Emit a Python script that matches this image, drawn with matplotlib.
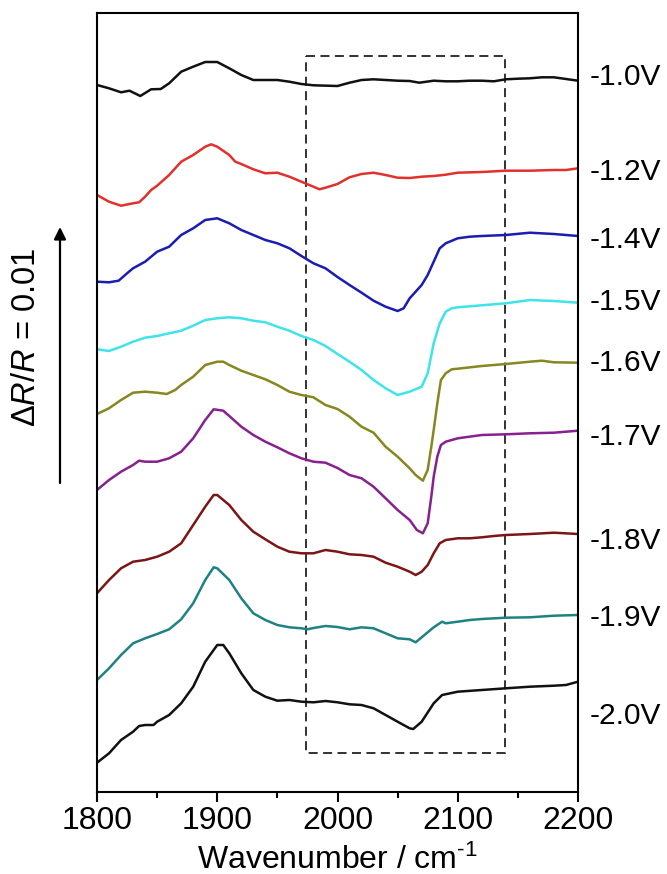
import matplotlib
matplotlib.use("Agg")
import matplotlib.pyplot as plt
from matplotlib.patches import Rectangle

plt.rcParams['font.family'] = ['Liberation Sans', 'DejaVu Sans']
plt.rcParams['mathtext.fontset'] = 'custom'
plt.rcParams['mathtext.rm'] = 'Liberation Sans'
plt.rcParams['mathtext.it'] = 'Liberation Sans:italic'

# ---- data (offset traces; vertical axis in stacked display units, increasing downward) ----
labels = ['-1.0V', '-1.2V', '-1.4V', '-1.5V', '-1.6V', '-1.7V', '-1.8V', '-1.9V', '-2.0V']
colors = ['#111111', '#e2312c', '#1c1cb0', '#3fe3ea', '#878720', '#86218f', '#7c1616', '#1f8282', '#111111']

x1 = [1800,1810,1820,1827,1836,1845,1853,1860,1870,1880,1890,1900,1910,1920,1930,1940,1950,1960,1970,1980,2000,2010,2020,2030,2040,2050,2060,2068,2080,2090,2100,2110,2120,2130,2140,2150,2160,2170,2180,2190,2200]
y1 = [85,88.3,92.3,90.7,96,89.3,89,83.3,71.7,66.7,62,62,68.3,75,80,80,80,81.7,84,85.3,86,82.7,80,79.3,80,80.7,81,82.7,80.7,81.3,81.3,80.7,80.7,81.3,79.3,78.7,78.3,77.3,77.3,79,80.7]

x2 = [1800,1810,1820,1830,1835,1840,1845,1850,1860,1870,1880,1890,1895,1900,1910,1915,1920,1930,1940,1950,1960,1970,1980,1985,1990,2000,2010,2020,2030,2040,2050,2060,2070,2080,2090,2100,2120,2140,2160,2180,2190,2200]
y2 = [195,201.7,205.7,203.3,202.3,196.7,190,185.7,175,161.7,155,146.7,144.3,146.7,155,161.7,164,169.3,173.3,172.7,176.7,181.7,186.7,189.3,187.7,184,177.3,174,172.7,175,177.7,178,176.7,176,174.7,172.7,172,170.7,170.7,170,170,168.3]

x3 = [1800,1810,1818,1825,1830,1840,1850,1860,1870,1880,1890,1900,1910,1920,1930,1940,1950,1960,1970,1980,1990,2000,2010,2020,2030,2040,2050,2055,2060,2070,2075,2080,2085,2090,2100,2110,2120,2140,2160,2180,2200]
y3 = [281.7,282.3,280.7,273.3,268.3,261.7,251.7,246.7,235,228.3,220,218.3,223.3,230,235,240,243.3,248.3,256,263.3,268.3,277,285,292.7,300.7,306.7,311,308.3,298.3,285,275,261.7,248.3,243.3,238.3,236.7,236,235,232.7,234,236]

x4 = [1800,1810,1820,1830,1840,1850,1860,1870,1880,1890,1900,1910,1920,1930,1940,1950,1960,1970,1980,1990,2000,2010,2020,2030,2040,2050,2060,2070,2075,2080,2085,2090,2095,2100,2120,2140,2160,2180,2200]
y4 = [349.3,351,346.7,341.7,337.7,336,333.3,330.7,325.7,320,318.3,317.3,318.3,320.7,322.3,326.7,330.7,336,340,346,354,361.7,370,380,388.3,395,391.7,386.7,373.3,343.3,323.3,311.7,308.3,307.3,305.3,303.3,300,301,302.7]

x5 = [1800,1810,1820,1830,1840,1850,1858,1865,1870,1880,1890,1900,1905,1910,1920,1930,1940,1950,1960,1970,1980,1990,2000,2010,2020,2030,2040,2050,2060,2065,2071,2075,2078,2080,2083,2086,2090,2095,2100,2120,2140,2160,2170,2180,2200]
y5 = [414,408.3,400,392.7,391.7,392.7,394,390,385,376.7,365,361.7,361.7,365,370.7,375,379.3,385,391.7,395,397.3,405,409,416.7,426.7,432.7,446.7,456.7,468.3,475,480.7,470,446.7,430,403.3,380,373.3,369.3,368.7,366,364,361.7,360.7,362.3,362.7]

x6 = [1800,1810,1820,1830,1835,1840,1850,1860,1870,1880,1890,1897,1905,1910,1920,1930,1940,1950,1960,1970,1980,1990,2000,2010,2020,2030,2040,2050,2060,2066,2071,2075,2078,2080,2083,2086,2090,2100,2120,2140,2160,2180,2200]
y6 = [490,480,471.7,465,460.7,461.7,461.7,458.3,451.7,438.3,420,409.3,410.7,416,426.7,435,441.7,447.3,453.3,458.3,461.7,462.7,468,475,478.3,486.7,498.3,510,520,530,533.3,523.3,496.7,476.7,456.7,445,441.7,438.3,435,434.3,433.3,432.7,430.7]

x7 = [1800,1810,1820,1830,1840,1850,1860,1870,1880,1890,1897,1900,1910,1920,1930,1940,1950,1960,1970,1980,1990,2000,2010,2020,2030,2040,2050,2060,2065,2070,2075,2080,2085,2090,2100,2110,2120,2130,2140,2160,2180,2200]
y7 = [593.3,580,568.3,561.7,560,556.7,551.7,543.3,525,506.7,495,495,505,520,531.7,539.3,546.7,551.7,553.3,553.3,550,551.7,554.3,555,556.7,562.7,566.7,571.7,575,571.7,565,553.3,543.3,540,538.3,538.3,537.3,536,535,534,532.7,534]

x8 = [1800,1810,1820,1830,1840,1850,1860,1870,1880,1890,1897,1900,1910,1920,1930,1940,1950,1960,1970,1975,1980,1990,2000,2010,2020,2030,2040,2050,2060,2065,2070,2080,2087,2090,2100,2110,2120,2140,2160,2180,2200]
y8 = [680,668.3,655,643.3,638.3,634,629.3,619.3,603.3,580,567.3,568.3,580,598.3,613.3,620,625,627.3,628.3,629.3,628,626,627,629.3,627.3,628.3,633.3,638.3,639.3,642.3,637.3,627.3,621.7,623.3,621.7,620,619,617.7,617.3,615.7,615]

x9 = [1800,1810,1820,1830,1835,1840,1847,1850,1860,1870,1880,1890,1900,1905,1910,1920,1930,1940,1950,1960,1970,1980,1990,2000,2010,2020,2030,2040,2050,2060,2063,2070,2080,2087,2100,2120,2140,2160,2180,2190,2200]
y9 = [762.7,753.3,740,731.7,726,725,725,721.7,715,703.3,686.7,661.7,645,645,653.3,673.3,690,696.7,700.7,700,701.7,702.3,701,702.3,704.3,705,708.3,715,721.7,728.3,729,721.7,703.3,695,691.7,690,688.3,686.7,685.7,685,681.7]

label_y = [77, 172, 240, 302, 363, 437, 541, 618, 716]

xs = [x1, x2, x3, x4, x5, x6, x7, x8, x9]
ys = [y1, y2, y3, y4, y5, y6, y7, y8, y9]

box_x = [1973.5, 2139.3]
box_y = [56, 753]

# ---- figure ----
fig = plt.figure(figsize=(6.67, 8.74), dpi=100)
ax = fig.add_axes([97/667, 1 - 792/874, 481/667, 779/874])

for x, y, c in zip(xs, ys, colors):
    ax.plot(x, y, color=c, lw=1.8, solid_joinstyle='round', solid_capstyle='round')

ax.add_patch(Rectangle((box_x[0], box_y[0]), box_x[1] - box_x[0], box_y[1] - box_y[0],
                       fill=False, ec='#222222', lw=1.3, ls=(0, (5, 3))))

ax.set_xlim(1800, 2200)
ax.set_ylim(792, 13)
ax.set_xticks([1800, 1900, 2000, 2100, 2200])
ax.set_xticks([1850, 1950, 2050, 2150], minor=True)
ax.set_yticks([])
ax.tick_params(axis='x', which='major', direction='out', length=7, width=1.5,
               labelsize=23, pad=3, top=False)
ax.tick_params(axis='x', which='minor', direction='out', length=4, width=1.5, top=False)
for s in ax.spines.values():
    s.set_linewidth(1.5)

ax.set_xlabel('Wavenumber / cm$^{\\text{-}1}$', fontsize=23, labelpad=6)

for lab, ly in zip(labels, label_y):
    ax.text(1.025, ly, lab, transform=ax.get_yaxis_transform(), ha='left', va='center',
            fontsize=21.5, clip_on=False)

# scale arrow and label
ax.annotate('', xy=(60/667, 1 - 227/874), xytext=(60/667, 1 - 483/874),
            xycoords='figure fraction', textcoords='figure fraction',
            arrowprops=dict(arrowstyle='-|>', lw=1.6, color='k', mutation_scale=18,
                            shrinkA=0, shrinkB=0))
fig.text(27/667, 1 - 337/874, 'Δ$\\mathit{R}$/$\\mathit{R}$ = 0.01', rotation=90,
         ha='center', va='center', fontsize=23.5)

fig.savefig('out.png', dpi=100)
